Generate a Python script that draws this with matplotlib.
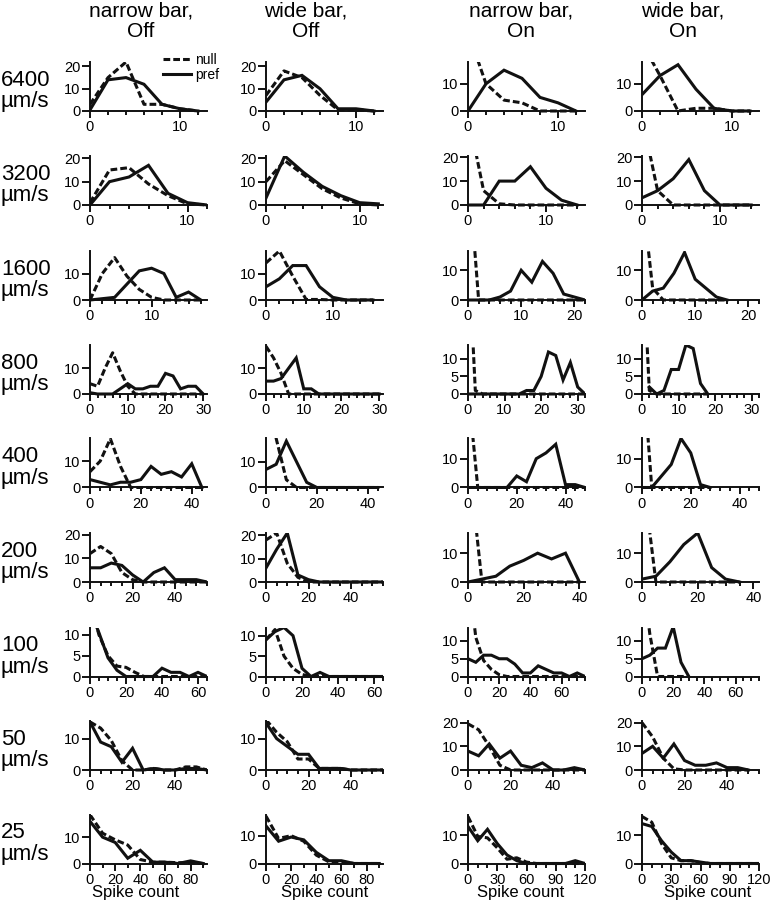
import numpy as np
import matplotlib
matplotlib.use("Agg")
import matplotlib.pyplot as plt
from matplotlib.ticker import MultipleLocator

plt.rcParams["font.family"] = ["Liberation Sans", "DejaVu Sans"]

# ---- data ----
speeds = ["6400", "3200", "1600", "800", "400", "200", "100", "50", "25"]
conditions = ["narrow bar,\nOff", "wide bar,\nOff", "narrow bar,\nOn", "wide bar,\nOn"]
bin_width = [2, 2, 2, 2, 4, 5, 5, 5, 10]

x_max = [[13, 13, 13, 13], [12, 12.5, 15, 15], [19, 17.5, 22, 22], [31, 31, 32, 32],
         [46, 46, 48, 48], [55, 55, 42, 42], [65, 65, 75, 75], [55, 55, 55, 55],
         [93, 93, 120, 120]]
y_max = [[22, 22, 18, 18], [21, 21, 20.5, 20.5], [18.5, 18.5, 16.5, 16.5], [19, 19, 14, 14],
         [18.6, 19, 17, 17], [20.7, 21, 17, 17], [11.8, 12, 13.8, 13.8],
         [15.8, 15.6, 20.7, 20.7], [18.6, 17.6, 17.2, 17.2]]
x_major = [[10] * 4, [10] * 4, [10] * 4, [10] * 4, [20] * 4, [20] * 4, [20] * 4,
           [20] * 4, [20, 20, 30, 30]]
y_major = [[10] * 4, [10] * 4, [10] * 4, [10, 10, 5, 5], [10] * 4, [10] * 4, [5] * 4,
           [10] * 4, [10] * 4]

null_narrow_off = [
    [3, 15, 22, 3, 3, 1, 0],
    [1, 15, 16, 9, 4, 0.5, 0],
    [0, 10, 16, 9, 4, 1, 0, 0, 0, 0],
    [4, 3, 10, 16, 9, 3, 0, 0, 0, 0, 0, 0, 0, 0, 0, 0],
    [6, 10, 18.5, 8, 0, 0, 0, 0, 0, 0, 0, 0],
    [12, 15, 12, 4, 1, 0, 0, 0, 0, 0, 0, 0],
    [18, 10, 5, 2.5, 2.2, 1, 0, 0, 0, 0, 0, 0, 0, 0],
    [15.5, 13.5, 9.5, 3, 0, 0, 0.5, 0, 0, 1, 1, 0],
    [18.5, 11.5, 9, 7, 1.5, 0.5, 0.5, 0.3, 0.3, 0],
]
pref_narrow_off = [
    [0.5, 14, 15, 12, 3, 1, 0],
    [0, 10, 12, 17, 5, 1, 0],
    [0, 0.5, 1, 6, 11, 12, 10, 1, 3, 0],
    [0.5, 0, 0, 0, 2, 4, 2, 2, 3, 3, 8, 7, 2, 3, 3, 0],
    [3, 2, 1, 2, 2, 3, 8, 5, 6, 4, 9, 0],
    [6, 6, 8, 7, 3, 0, 4, 6, 1, 1, 1, 0],
    [16, 10.5, 4.5, 1.5, 0, 0, 0, 0, 2, 1, 1, 0, 1, 0],
    [15.5, 9, 7.5, 2.5, 7, 0, 0.5, 0, 0, 0.5, 0.5, 0],
    [16, 10, 8, 2, 5, 0.5, 0.5, 0, 1, 0],
]
null_wide_off = [
    [7, 18, 15, 7, 0.5, 0.5, 0],
    [10, 19, 13, 7, 3, 0.5, 0],
    [14, 18.5, 9, 0.2, 0.2, 0, 0, 0, 0],
    [18.5, 14, 8, 0, 0, 0, 0, 0, 0, 0, 0, 0, 0, 0, 0, 0],
    [30, 19, 3, 0, 0, 0, 0, 0, 0, 0, 0, 0],
    [18, 21, 8, 2, 0, 0, 0, 0, 0, 0, 0, 0],
    [9, 11.5, 5, 2, 0.5, 0, 0, 0, 0, 0, 0, 0, 0, 0],
    [16, 12, 9, 3.5, 3.5, 0.5, 0.5, 0.5, 0, 0, 0, 0],
    [17, 9, 10, 8, 3, 0.6, 0.6, 0, 0, 0],
]
pref_wide_off = [
    [4, 14, 16, 10, 1, 1, 0],
    [3, 21, 14, 8, 4, 1, 0.5],
    [5, 8, 13, 13, 5, 1, 0, 0, 0],
    [5, 5, 6, 10, 14, 2, 2, 0, 0, 0, 0, 0, 0, 0, 0, 0],
    [7, 9, 18, 10, 2, 0, 0, 0, 0, 0, 0, 0],
    [6, 14, 21, 3, 1, 0, 0, 0, 0, 0, 0, 0],
    [9, 11, 12, 10, 2, 0, 1, 0, 0, 0, 0, 0, 0, 0],
    [15, 10, 7.5, 5, 5, 0.5, 0.5, 0.5, 0, 0, 0, 0],
    [13.5, 8, 9.5, 8.5, 4, 1, 1, 0, 0, 0],
]
null_narrow_on = [
    [29, 10, 4, 3, 0, 0, 0],
    [38, 6, 0.5, 0, 0, 0, 0, 0],
    [46, 0, 0, 0, 0, 0, 0, 0, 0, 0, 0, 0],
    [44, 1, 0, 0, 0, 0, 0, 0, 0, 0, 0, 0, 0, 0, 0, 0, 0],
    [35, 0, 0, 0, 0, 0, 0, 0, 0, 0, 0, 0, 0],
    [45, 0, 0, 0, 0, 0, 0, 0, 0],
    [30, 11, 4.5, 2, 0.5, 0, 0, 0, 0, 0, 0, 0, 0, 0, 0, 0],
    [19.5, 17, 10, 2, 0, 0, 0, 0, 0, 0, 0, 0],
    [16.5, 9.5, 9, 5.5, 1.5, 2, 0.5, 0, 0, 0, 0, 0, 0],
]
pref_narrow_on = [
    [0, 10, 15, 12, 5, 3, 0],
    [0, 0, 10, 10, 16, 7, 2, 0],
    [0, 0, 0, 1, 3, 10, 6, 13, 9, 2, 1, 0],
    [0, 0, 0, 0, 0, 0, 0, 0, 1, 1, 5, 12, 11, 4, 9, 2, 0],
    [0, 0, 0, 0, 0, 4, 2, 10, 12, 15, 1, 1, 0],
    [0, 1, 2, 5.5, 7.5, 10, 8, 10, 0],
    [5, 4, 6, 6, 5, 5, 3.5, 1, 1, 3, 2, 1, 1, 0, 1, 0],
    [8, 6, 11, 5, 8, 2, 1, 3, 0, 0, 1, 0],
    [13, 8, 12, 7, 3, 1, 0, 0, 0, 0, 0, 1, 0],
]
null_wide_on = [
    [25, 13, 0, 1, 1, 0, 0],
    [37, 6, 0, 0, 0, 0, 0, 0],
    [36, 4, 0, 0, 0, 0, 0, 0, 0],
    [44, 1, 0, 0, 0, 0, 0, 0, 0, 0],
    [45, 0, 0, 0, 0, 0, 0, 0],
    [39, 0, 0, 0, 0, 0, 0, 0],
    [30, 12, 0, 0, 0, 0, 0],
    [20, 14, 5, 0.5, 0, 0, 0, 0, 0, 0, 0],
    [16.5, 14.5, 7, 2, 1, 1, 0.3, 0, 0, 0, 0, 0, 0],
]
pref_wide_on = [
    [6, 13, 17, 8, 1, 0, 0],
    [3, 6, 11, 19, 6, 0, 0, 0],
    [0, 3, 4, 9, 16, 7, 4, 1, 0],
    [np.nan, 2, 0, 1, 7, 7, 14, 13, 3, 0],
    [0, 0, 4, 8, 17, 12, 1, 0],
    [1, 2, 7, 13, 17, 5, 1, 0],
    [5, 6, 8, 8, 14, 4, 0],
    [7, 10, 5, 11, 4, 2, 2, 3, 1, 1, 0],
    [14, 13, 8, 4, 1, 1, 0.5, 0, 0, 0, 0, 0, 0],
]

null_sets = [null_narrow_off, null_wide_off, null_narrow_on, null_wide_on]
pref_sets = [pref_narrow_off, pref_wide_off, pref_narrow_on, pref_wide_on]

# ---- layout (pixels of the 771x901 target) ----
W, H = 771, 901
col_left = [90, 266, 468, 642]
ax_w, ax_h, pad = 117, 49, 2
baseline = [111, 205, 300, 394, 487.5, 582, 676.5, 770, 863.5]
header_x = [141, 306, 521, 683]
xlabel_pos = [0.39, 0.5, 0.45, 0.56]
ink = "#111111"
dash = (0, (2.2, 1.0))

fig = plt.figure(figsize=(W / 100, H / 100), dpi=100)

legend_handles = None
for r in range(len(speeds)):
    for c in range(4):
        left = col_left[c] / W
        bottom = 1 - (baseline[r] + pad) / H
        ax = fig.add_axes([left, bottom, ax_w / W, (ax_h + pad) / H])

        yn = np.asarray(null_sets[c][r], dtype=float)
        yp = np.asarray(pref_sets[c][r], dtype=float)
        xn = np.arange(len(yn)) * bin_width[r]
        xp = np.arange(len(yp)) * bin_width[r]
        ln, = ax.plot(xn, yn, color=ink, lw=2.2, ls=dash, dash_capstyle="butt")
        lp, = ax.plot(xp, yp, color=ink, lw=2.2, solid_joinstyle="miter")
        if legend_handles is None:
            legend_handles = [ln, lp]

        ym = y_max[r][c]
        ax.set_xlim(0, x_max[r][c])
        ax.set_ylim(-ym * pad / ax_h, ym)
        for s in ("top", "right"):
            ax.spines[s].set_visible(False)
        ax.spines["bottom"].set_position(("data", 0))
        ax.spines["left"].set_bounds(0, ym)
        for s in ("bottom", "left"):
            ax.spines[s].set_linewidth(1.4)
            ax.spines[s].set_color(ink)
        ax.patch.set_visible(False)

        ax.xaxis.set_major_locator(MultipleLocator(x_major[r][c]))
        ax.xaxis.set_minor_locator(MultipleLocator(bin_width[r]))
        ax.yaxis.set_major_locator(MultipleLocator(y_major[r][c]))
        ax.tick_params(axis="x", which="major", length=5, width=1.4, pad=1.5,
                       labelsize=10.5, color=ink)
        ax.tick_params(axis="x", which="minor", length=3, width=1.4, color=ink)
        ax.tick_params(axis="y", which="major", length=6, width=1.4, pad=1,
                       labelsize=10.5, color=ink)

        if r == len(speeds) - 1:
            ax.set_xlabel("Spike count", fontsize=12, labelpad=-1, x=xlabel_pos[c])

for c, cond in enumerate(conditions):
    fig.text(header_x[c] / W, 1 - 21.5 / H, cond, ha="center", va="center",
             fontsize=15, linespacing=1.1)

for r, s in enumerate(speeds):
    fig.text(1 / W, 1 - (baseline[r] - 20) / H, f"{s}\nµm/s", ha="left", va="center",
             fontsize=16, linespacing=1.05)

fig.legend(legend_handles, ["null", "pref"], loc="center left",
           bbox_to_anchor=(163 / W, 1 - 67.5 / H), frameon=False, fontsize=10,
           handlelength=2.0, handletextpad=0.3, labelspacing=0.1, borderpad=0,
           borderaxespad=0)

fig.savefig("out.png", dpi=100)
plt.close(fig)
